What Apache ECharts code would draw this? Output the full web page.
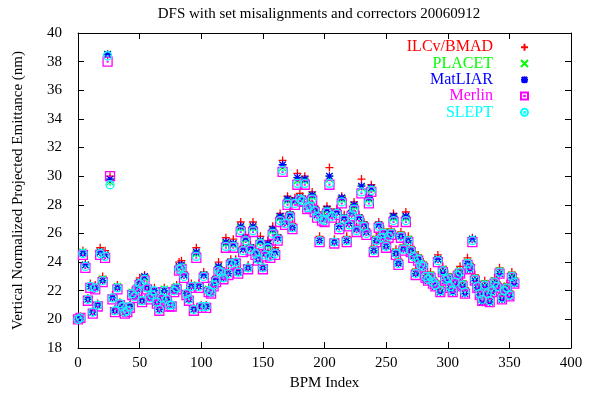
<!DOCTYPE html>
<html>
<head>
<meta charset="utf-8">
<script src="https://cdn.jsdelivr.net/npm/echarts@6/dist/echarts.min.js"></script>
<style>
html,body{margin:0;padding:0;background:#fff;}
#chart{width:591px;height:402px;}
</style>
</head>
<body>
<div id="chart"></div>
<script>
var FONT = '"Liberation Serif","DejaVu Serif",serif';
var titleText = 'DFS with set misalignments and correctors 20060912';
var xName = 'BPM Index';
var yName = 'Vertical Normalized Projected Emittance (nm)';
var seriesNames = ['ILCv/BMAD', 'PLACET', 'MatLIAR', 'Merlin', 'SLEPT'];
var seriesColors = ['#ff0000', '#00ff00', '#0000ff', '#ff00ff', '#00ffff'];

var bpm = [0,2,4,6,8,10,12,14,16,18,20,22,24,26,28,30,32,34,36,38,40,42,44,46,48,50,52,54,56,58,
60,62,64,66,68,70,72,74,76,78,80,82,84,86,88,90,92,94,96,98,100,102,104,106,108,110,112,114,116,118,
120,122,124,126,128,130,132,134,136,138,140,142,144,146,148,150,152,154,156,158,160,162,164,166,168,170,172,174,176,178,
180,182,184,186,188,190,192,194,196,198,200,202,204,206,208,210,212,214,216,218,220,222,224,226,228,230,232,234,236,238,
240,242,244,246,248,250,252,254,256,258,260,262,264,266,268,270,272,274,276,278,280,282,284,286,288,290,292,294,296,298,
300,302,304,306,308,310,312,314,316,318,320,322,324,326,328,330,332,334,336,338,340,342,344,346,348,350,352,354];

var ilc = [20.0,20.2,24.8,23.9,21.5,22.5,20.6,22.4,21.1,25.0,
23.0,24.8,38.5,30.0,21.7,20.7,22.4,21.2,21.0,20.6,
20.7,21.0,22.0,21.8,22.3,22.9,21.4,23.1,22.4,21.6,
21.9,22.2,21.3,20.8,21.6,22.2,21.5,21.1,21.1,22.2,
22.4,24.0,24.1,23.3,21.9,21.5,22.5,20.8,25.0,22.5,
21.0,23.3,21.0,22.2,22.1,22.6,23.0,24.0,23.6,23.1,
25.7,23.4,24.2,25.6,24.2,23.5,26.8,25.1,25.9,23.8,
25.2,26.8,24.9,24.4,25.8,23.8,24.8,25.5,24.7,26.5,
25.0,25.9,27.4,31.1,27.0,28.6,27.5,26.7,28.5,30.2,
28.8,28.6,30.0,28.1,28.2,28.9,27.9,27.5,25.8,27.3,
27.2,27.9,30.6,27.5,25.6,27.7,26.7,28.6,27.3,25.8,
26.9,27.6,28.2,26.5,27.3,29.8,26.8,26.3,28.6,29.4,
25.1,25.8,26.8,26.0,26.3,25.4,26.1,26.3,27.4,24.9,
24.2,26.1,25.2,27.5,25.8,25.1,24.7,23.5,24.5,24.1,
24.0,23.3,23.1,23.3,22.9,22.7,24.5,22.3,23.7,23.1,
23.2,22.6,22.3,22.9,23.4,23.7,22.7,22.2,24.3,23.9,
25.7,23.1,22.6,22.1,21.7,22.7,22.1,21.6,22.3,22.9,
22.6,23.6,21.8,22.3,22.5,22.0,23.3,22.9];

var placet = [20.0,20.1,24.7,23.8,21.4,22.3,20.5,22.3,21.0,24.7,
22.8,24.5,38.5,29.6,21.5,20.6,22.3,21.1,20.9,20.5,
20.6,20.9,21.9,21.6,22.2,22.6,21.3,22.9,22.2,21.5,
21.8,22.0,21.2,20.7,21.5,22.1,21.4,21.0,21.0,22.1,
22.3,23.6,23.7,23.1,21.8,21.4,22.4,20.7,24.6,22.3,
20.9,23.1,20.9,22.1,21.9,22.4,22.8,23.6,23.4,22.9,
25.3,23.2,24.0,25.2,24.0,23.3,26.4,24.9,25.6,23.6,
25.0,26.4,24.7,24.2,25.4,23.6,24.6,25.2,24.5,26.2,
24.7,25.7,27.1,30.6,26.8,28.3,27.3,26.4,28.2,29.7,
28.5,28.4,29.7,27.9,28.0,28.6,27.7,27.3,25.5,27.1,
27.0,27.6,29.8,27.3,25.4,27.5,26.5,28.4,27.1,25.5,
26.7,27.4,27.9,26.3,27.1,29.2,26.6,26.1,28.4,29.1,
24.9,25.6,26.6,25.8,26.1,25.2,25.9,26.1,27.1,24.7,
24.0,25.9,25.0,27.1,25.6,24.9,24.5,23.3,24.3,23.9,
23.8,23.1,22.9,23.1,22.7,22.5,24.2,22.1,23.5,22.9,
23.0,22.4,22.1,22.7,23.2,23.4,22.5,22.0,24.0,23.7,
25.6,22.9,22.4,21.9,21.5,22.5,21.9,21.4,22.1,22.7,
22.4,23.4,21.6,22.1,22.3,21.8,23.1,22.7];

var matliar = [20.0,20.1,24.6,23.8,21.4,22.3,20.5,22.2,21.0,24.7,
22.7,24.5,38.5,29.8,21.5,20.6,22.2,21.1,20.9,20.5,
20.6,20.9,21.8,21.6,22.1,22.6,21.3,23.0,22.2,21.5,
21.7,22.0,21.2,20.7,21.5,22.0,21.4,21.0,21.0,22.0,
22.2,23.7,23.8,23.1,21.8,21.4,22.3,20.7,24.7,22.3,
20.9,23.1,20.9,22.0,21.9,22.4,22.8,23.7,23.4,22.9,
25.4,23.2,24.0,25.3,24.0,23.3,26.5,24.9,25.7,23.6,
25.0,26.5,24.7,24.2,25.5,23.6,24.6,25.3,24.5,26.3,
24.7,25.7,27.2,30.8,26.8,28.4,27.3,26.4,28.3,29.9,
28.5,28.4,29.8,27.9,28.0,28.7,27.7,27.3,25.5,27.1,
27.0,27.7,30.0,27.3,25.4,27.5,26.5,28.5,27.1,25.5,
26.7,27.4,28.0,26.3,27.1,29.3,26.6,26.1,28.5,29.2,
24.8,25.5,26.6,25.7,26.0,25.1,25.8,26.0,27.2,24.6,
23.9,25.8,24.9,27.2,25.5,24.8,24.4,23.2,24.2,23.8,
23.7,22.9,22.7,22.9,22.5,22.3,24.2,21.9,23.3,22.7,
22.8,22.2,21.9,22.5,23.0,23.2,22.3,21.8,23.9,23.5,
25.6,22.7,22.2,21.7,21.2,22.3,21.7,21.2,21.9,22.5,
22.2,23.2,21.4,21.9,22.1,21.6,22.9,22.5];

var merlin = [20.0,20.1,24.5,23.6,21.3,22.2,20.4,22.1,20.9,24.5,
22.6,24.3,38.0,30.0,21.4,20.5,22.1,21.0,20.8,20.4,
20.5,20.8,21.7,21.5,22.0,22.4,21.2,22.7,22.1,21.4,
21.6,21.9,21.1,20.6,21.4,21.9,21.3,20.9,20.9,21.9,
22.1,23.4,23.5,22.9,21.7,21.3,22.2,20.6,24.3,22.2,
20.8,22.9,20.8,21.9,21.8,22.3,22.6,23.3,23.2,22.8,
25.0,23.1,23.8,25.0,23.9,23.2,26.1,24.7,25.4,23.5,
24.8,26.1,24.5,24.1,25.2,23.5,24.4,24.9,24.3,25.9,
24.5,25.5,26.8,30.3,26.6,28.0,27.1,26.3,28.0,29.4,
28.3,28.2,29.4,27.7,27.8,28.3,27.5,27.1,25.4,26.9,
26.8,27.4,29.4,27.1,25.3,27.3,26.3,28.1,26.9,25.4,
26.5,27.2,27.6,26.1,26.9,28.8,26.4,25.9,28.1,28.9,
24.7,25.4,26.4,25.6,25.9,25.0,25.7,25.9,26.8,24.5,
23.8,25.7,24.8,26.8,25.4,24.7,24.3,23.1,24.1,23.7,
23.6,22.9,22.7,22.9,22.5,22.3,24.0,21.9,23.3,22.7,
22.8,22.2,21.9,22.5,23.0,23.2,22.3,21.8,23.8,23.5,
25.4,22.7,22.2,21.7,21.3,22.3,21.7,21.2,21.9,22.5,
22.2,23.2,21.4,21.9,22.1,21.6,22.9,22.5];

var slept = [20.0,20.1,24.6,23.7,21.4,22.3,20.5,22.2,21.0,24.6,
22.7,24.4,38.4,29.4,21.5,20.6,22.2,21.1,20.9,20.5,
20.6,20.9,21.8,21.6,22.1,22.5,21.3,22.8,22.2,21.5,
21.7,22.0,21.2,20.7,21.5,22.0,21.4,21.0,21.0,22.0,
22.2,23.5,23.6,23.0,21.8,21.4,22.3,20.7,24.4,22.3,
20.9,23.0,20.9,22.0,21.9,22.4,22.7,23.4,23.3,22.9,
25.1,23.2,23.9,25.1,24.0,23.3,26.2,24.8,25.5,23.6,
24.9,26.2,24.6,24.2,25.3,23.6,24.5,25.0,24.4,26.0,
24.6,25.6,26.9,30.4,26.7,28.1,27.2,26.4,28.1,29.5,
28.4,28.3,29.5,27.8,27.9,28.4,27.6,27.2,25.5,27.0,
26.9,27.5,29.5,27.2,25.4,27.4,26.4,28.2,27.0,25.5,
26.6,27.3,27.7,26.2,27.0,28.9,26.5,26.0,28.2,29.0,
24.8,25.5,26.5,25.7,26.0,25.1,25.8,26.0,26.9,24.6,
23.9,25.8,24.9,26.9,25.5,24.8,24.4,23.2,24.2,23.8,
23.7,23.0,22.8,23.0,22.6,22.4,24.1,22.0,23.4,22.8,
22.9,22.3,22.0,22.6,23.1,23.3,22.4,21.9,23.9,23.6,
25.5,22.8,22.3,21.8,21.4,22.4,21.8,21.3,22.0,22.6,
22.3,23.3,21.5,22.0,22.2,21.7,23.0,22.6];

var allValues = [ilc, placet, matliar, merlin, slept];
var symbols = [
  'path://M0,5L10,5M5,0L5,10',
  'path://M0,0L10,10M0,10L10,0',
  'path://M0,5L10,5M5,0L5,10M1,1L9,9M1,9L9,1',
  'path://M0,0L10,0L10,10L0,10ZM4.6,4.6L5.4,4.6L5.4,5.4L4.6,5.4Z',
  'path://M0,5A5,5,0,1,1,10,5A5,5,0,1,1,0,5ZM4.6,4.6L5.4,4.6L5.4,5.4L4.6,5.4Z'
];
var sizes = [8, 7, 8, 9, 8];

var chart = echarts.init(document.getElementById('chart'), null, {renderer: 'canvas'});

var series = seriesNames.map(function (name, k) {
  return {
    name: name,
    type: 'scatter',
    xAxisIndex: 0,
    yAxisIndex: 0,
    symbol: symbols[k],
    symbolSize: sizes[k],
    symbolKeepAspect: true,
    itemStyle: {color: 'rgba(0,0,0,0)', borderColor: seriesColors[k], borderWidth: 1.3, opacity: 1},
    emphasis: {disabled: true},
    data: bpm.map(function (x, i) { return [x, allValues[k][i]]; })
  };
});

var axisLineStyle = {color: '#000', width: 1};
var option = {
  animation: false,
  backgroundColor: '#fff',
  textStyle: {fontFamily: FONT},
  title: {
    text: titleText,
    left: 314, top: 2, textAlign: 'center',
    textStyle: {fontFamily: FONT, fontSize: 15, fontWeight: 'normal', color: '#000'}
  },
  legend: {
    orient: 'vertical',
    right: 62, top: 39,
    padding: 0,
    itemGap: 0,
    itemWidth: 7, itemHeight: 7,
    align: 'right',
    selectedMode: false,
    data: seriesNames.map(function (n, k) {
      return {name: n, textStyle: {color: seriesColors[k]}};
    }),
    textStyle: {fontFamily: FONT, fontSize: 16, lineHeight: 16.3, padding: [0, 23, 0, 0]}
  },
  grid: {left: 78, right: 20, top: 33, bottom: 54, containLabel: false},
  xAxis: [{
    type: 'value', min: 0, max: 400, interval: 50, position: 'bottom',
    name: xName, nameLocation: 'middle', nameGap: 26,
    nameTextStyle: {fontFamily: FONT, fontSize: 15, color: '#000'},
    axisLine: {show: true, onZero: false, lineStyle: axisLineStyle},
    axisTick: {show: true, inside: true, length: 6, lineStyle: axisLineStyle},
    axisLabel: {fontFamily: FONT, fontSize: 15, color: '#000', margin: 8},
    splitLine: {show: false}
  }, {
    type: 'value', min: 0, max: 400, interval: 50, position: 'top',
    axisLine: {show: true, onZero: false, lineStyle: axisLineStyle},
    axisTick: {show: true, inside: true, length: 6, lineStyle: axisLineStyle},
    axisLabel: {show: false},
    splitLine: {show: false}
  }],
  yAxis: [{
    type: 'value', min: 18, max: 40, interval: 2, position: 'left',
    name: yName, nameLocation: 'middle', nameGap: 52, nameRotate: 90,
    nameTextStyle: {fontFamily: FONT, fontSize: 15, color: '#000'},
    axisLine: {show: true, onZero: false, lineStyle: axisLineStyle},
    axisTick: {show: true, inside: true, length: 6, lineStyle: axisLineStyle},
    axisLabel: {fontFamily: FONT, fontSize: 15, color: '#000', margin: 16},
    splitLine: {show: false}
  }, {
    type: 'value', min: 18, max: 40, interval: 2, position: 'right',
    axisLine: {show: true, onZero: false, lineStyle: axisLineStyle},
    axisTick: {show: true, inside: true, length: 6, lineStyle: axisLineStyle},
    axisLabel: {show: false},
    splitLine: {show: false}
  }],
  series: series
};
chart.setOption(option);
</script>
</body>
</html>
